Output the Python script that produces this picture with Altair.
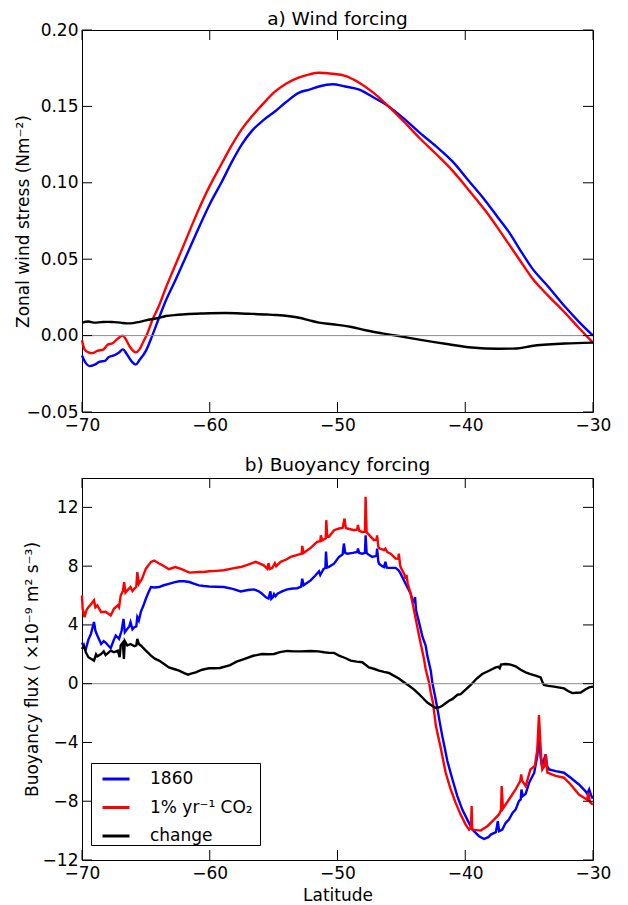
import altair as alt
import pandas as pd

FONT = "DejaVu Sans"
W, H = 511, 382

# ---------------- a) Wind forcing ----------------
wind_lat_1860 = [-70.0, -69.7, -69.4, -69.0, -68.6, -68.2, -67.9, -67.5, -67.1, -66.8, -66.5, -66.1,
                 -65.8, -65.5, -65.0, -64.5, -64.0, -63.45, -62.7, -61.9, -61.0, -60.0, -59.1, -58.25,
                 -57.5, -56.7, -55.8, -54.85, -54.0, -53.0, -52.2, -51.45, -50.4, -49.4, -48.3, -47.2,
                 -46.0, -44.8, -43.6, -42.3, -41.0, -39.7, -38.4, -37.5, -36.6, -35.7, -34.8, -33.5,
                 -32.2, -31.1, -30.0]
wind_1860 = [-0.013, -0.018, -0.020, -0.019, -0.017, -0.0165, -0.014, -0.013, -0.011, -0.009, -0.012, -0.017,
             -0.019, -0.016, -0.010, 0.000, 0.011, 0.0226, 0.036, 0.051, 0.068, 0.086, 0.100, 0.114,
             0.125, 0.134, 0.141, 0.147, 0.153, 0.159, 0.161, 0.163, 0.1645, 0.163, 0.161, 0.156,
             0.150, 0.142, 0.133, 0.124, 0.114, 0.101, 0.088, 0.078, 0.068, 0.056, 0.0445, 0.032,
             0.019, 0.009, 0.000]

wind_lat_co2 = [-70.0, -69.8, -69.5, -69.2, -68.8, -68.3, -68.0, -67.6, -67.2, -66.8, -66.6, -66.2,
                -65.8, -65.5, -65.2, -64.9, -64.5, -64.0, -63.45, -62.7, -61.9, -61.0, -60.0, -59.1,
                -58.25, -57.5, -56.7, -55.8, -54.85, -54.0, -53.0, -52.2, -51.5, -50.4, -49.4, -48.3,
                -47.2, -46.0, -44.8, -43.6, -42.3, -41.0, -39.7, -38.4, -37.5, -36.6, -35.7, -34.8,
                -33.5, -32.2, -31.1, -30.0]
wind_co2 = [-0.003, -0.009, -0.011, -0.0115, -0.010, -0.009, -0.006, -0.005, -0.002, 0.000, -0.002, -0.008,
            -0.011, -0.009, -0.004, 0.001, 0.010, 0.019, 0.031, 0.046, 0.062, 0.080, 0.098, 0.112,
            0.125, 0.135, 0.1435, 0.152, 0.160, 0.165, 0.169, 0.171, 0.172, 0.1714, 0.170, 0.1655,
            0.159, 0.150, 0.140, 0.1295, 0.119, 0.108, 0.095, 0.0815, 0.071, 0.060, 0.049, 0.038,
            0.026, 0.015, 0.005, -0.0046]

wind_lat_change = [-70.0, -69.5, -69.0, -68.5, -68.0, -67.5, -67.0, -66.5, -66.0, -65.5, -65.0, -64.0,
                   -63.45, -62.5, -61.9, -60.5, -58.8, -57.0, -55.5, -54.85, -53.0, -52.2, -51.45, -50.4,
                   -49.0, -47.8, -46.5, -45.2, -43.5, -41.3, -39.5, -37.4, -36.0, -34.8, -32.2, -30.0]
wind_change = [0.0085, 0.0092, 0.0085, 0.0088, 0.0090, 0.0088, 0.0085, 0.0080, 0.0082, 0.0090, 0.0100, 0.0115,
               0.0128, 0.0136, 0.0140, 0.0145, 0.0148, 0.0143, 0.0138, 0.0135, 0.0117, 0.0100, 0.0085, 0.0074,
               0.0058, 0.0035, 0.0015, -0.0003, -0.0028, -0.0057, -0.0078, -0.0086, -0.0084, -0.0068, -0.0052, -0.0046]

# ---------------- b) Buoyancy forcing ----------------
buoy_lat_1860 = [-70.0, -69.85, -69.7, -69.5, -69.3, -69.06, -68.95, -68.8, -68.5, -68.3, -68.15, -67.95,
                 -67.75, -67.5, -67.36, -67.1, -66.9, -66.75, -66.65, -66.45, -66.3, -66.2, -66.05, -65.9,
                 -65.75, -65.67, -65.55, -65.4, -65.2, -65.0, -64.8, -64.6, -64.3, -63.97, -63.6, -63.2,
                 -62.8, -62.4, -62.0, -61.6, -61.2, -60.85, -60.45, -60.06, -59.5, -58.9, -58.2, -57.58,
                 -57.0, -56.54, -56.2, -55.9, -55.6, -55.4, -55.25, -55.18, -55.05, -54.97, -54.85, -54.7,
                 -54.3, -53.93, -53.5, -53.15, -52.85, -52.76, -52.65, -52.4, -52.1, -51.75, -51.45, -51.35,
                 -51.1, -50.95, -50.9, -50.82, -50.67, -50.27, -49.88, -49.6, -49.5, -49.4, -49.23, -48.8,
                 -48.45, -48.4, -48.3, -48.06, -47.85, -47.8, -47.72, -47.6, -47.28, -46.95, -46.9, -46.8,
                 -46.75, -46.5, -46.36, -46.25, -46.15, -45.97, -45.45, -45.2, -45.06, -44.67, -44.27, -44.1,
                 -44.0, -43.93, -43.85, -43.62, -43.35, -43.1, -42.97, -42.7, -42.58, -42.37, -42.2, -42.0,
                 -41.8, -41.6, -41.4, -41.2, -41.0, -40.62, -40.23, -39.84, -39.45, -38.92, -38.53, -38.2,
                 -38.0, -37.6, -37.45, -37.35, -37.1, -36.83, -36.58, -36.3, -36.06, -35.8, -35.66, -35.6,
                 -35.5, -35.27, -35.0, -34.6, -34.36, -34.23, -34.1, -34.0, -33.85, -33.7, -33.6, -33.44,
                 -32.92, -32.27, -31.75, -31.1, -30.6, -30.45, -30.3, -30.15, -30.05, -30.0]
buoy_1860 = [2.8, 2.5, 2.36, 3.0, 3.39, 4.2, 3.6, 3.28, 2.7, 2.9, 2.8, 2.6,
             2.43, 3.0, 3.28, 3.05, 3.6, 4.41, 3.5, 3.73, 3.9, 4.19, 3.7, 3.84,
             3.9, 4.53, 4.3, 4.87, 5.3, 5.78, 6.2, 6.58, 6.55, 6.58, 6.7, 6.8,
             6.9, 6.97, 6.97, 6.92, 6.8, 6.69, 6.65, 6.62, 6.6, 6.58, 6.45, 6.28,
             6.38, 6.42, 6.3, 6.12, 5.88, 5.8, 6.28, 5.78, 5.9, 6.1, 5.95, 6.12,
             6.3, 6.42, 6.48, 6.5, 6.6, 7.14, 6.7, 6.85, 7.03, 7.35, 7.65, 7.4,
             7.8, 7.88, 9.0, 7.9, 7.95, 8.17, 8.63, 8.8, 9.54, 8.9, 8.85, 8.9,
             8.97, 9.2, 8.9, 8.85, 8.9, 10.1, 8.9, 8.8, 8.63, 8.7, 9.2, 8.3,
             8.17, 8.0, 7.94, 8.3, 7.9, 7.88, 7.88, 7.7, 7.49, 6.8, 6.12, 5.6,
             5.55, 5.9, 5.0, 4.19, 3.2, 2.6, 1.91, 0.89, 0.09, -0.82, -1.6, -2.6,
             -3.55, -4.4, -5.26, -5.9, -6.52, -7.65, -8.57, -9.25, -9.93, -10.38, -10.57, -10.45,
             -10.27, -10.1, -9.36, -10.04, -9.93, -9.47, -9.25, -8.79, -8.57, -7.99, -7.88, -7.2,
             -7.65, -7.5, -6.74, -6.06, -4.92, -3.55, -5.0, -5.6, -5.2, -4.81, -5.6, -5.83,
             -5.95, -6.06, -6.4, -6.86, -7.31, -7.5, -7.2, -7.6, -7.77, -7.8]

buoy_lat_co2 = [-70.0, -69.95, -69.8, -69.65, -69.5, -69.3, -69.06, -68.95, -68.8, -68.5, -68.15, -67.75,
                -67.5, -67.2, -67.1, -66.97, -66.8, -66.7, -66.6, -66.45, -66.2, -66.05, -65.9, -65.75,
                -65.67, -65.55, -65.3, -65.0, -64.6, -64.35, -64.0, -63.7, -63.2, -62.7, -62.2, -61.6,
                -60.85, -60.45, -60.06, -59.5, -58.9, -58.2, -57.58, -57.0, -56.4, -55.77, -55.5, -55.4,
                -55.3, -55.1, -54.9, -54.8, -54.45, -54.0, -53.67, -53.0, -52.8, -52.76, -52.65, -52.1,
                -51.6, -51.35, -51.3, -51.2, -50.92, -50.88, -50.8, -50.67, -50.27, -49.88, -49.6, -49.45,
                -49.35, -49.23, -48.7, -48.45, -48.4, -48.3, -48.06, -47.85, -47.8, -47.72, -47.6, -47.15,
                -46.95, -46.9, -46.8, -46.7, -46.35, -46.25, -46.1, -45.84, -45.45, -45.25, -45.2, -45.1,
                -45.06, -44.75, -44.67, -44.6, -44.5, -44.27, -43.93, -43.62, -43.23, -43.1, -42.84, -42.7,
                -42.53, -42.3, -41.9, -41.53, -41.14, -40.75, -40.36, -39.97, -39.7, -39.55, -39.5, -39.45,
                -39.4, -38.8, -38.27, -37.75, -37.36, -37.2, -37.15, -37.05, -36.58, -36.06, -35.7, -35.62,
                -35.55, -35.27, -34.9, -34.55, -34.36, -34.23, -34.12, -34.07, -33.97, -33.8, -33.7, -33.6,
                -33.57, -32.92, -32.27, -31.75, -31.1, -30.7, -30.45, -30.37, -30.25, -30.18, -30.0]
buoy_co2 = [6.0, 5.1, 4.53, 5.0, 5.21, 5.4, 5.67, 5.2, 5.33, 4.87, 4.9, 4.64,
            5.1, 5.33, 5.2, 6.0, 6.3, 6.92, 6.2, 6.35, 6.58, 6.3, 6.46, 6.6,
            7.6, 6.8, 7.14, 7.83, 8.29, 8.38, 8.2, 8.06, 7.79, 7.94, 7.79, 7.56,
            7.6, 7.6, 7.65, 7.68, 7.72, 7.85, 7.94, 8.1, 8.29, 8.06, 7.83, 8.2,
            7.8, 7.88, 8.2, 8.0, 8.29, 8.45, 8.63, 8.8, 8.85, 9.38, 8.9, 9.24,
            9.65, 9.7, 10.1, 9.75, 9.9, 11.13, 10.0, 10.0, 10.45, 10.56, 10.6, 11.24,
            10.6, 10.56, 10.45, 10.5, 10.8, 10.4, 10.33, 10.35, 12.72, 10.3, 10.2, 9.77,
            9.8, 10.1, 9.3, 9.2, 9.1, 9.2, 8.95, 8.85, 8.51, 8.5, 8.85, 8.1,
            7.94, 7.4, 7.14, 7.4, 6.8, 6.12, 4.64, 3.28, 1.68, 1.0, 0.09, -0.6,
            -1.28, -2.87, -4.47, -6.06, -7.2, -8.11, -8.91, -9.59, -9.93, -9.8, -8.33, -9.9,
            -9.93, -10.0, -9.7, -9.25, -8.9, -8.6, -6.97, -8.5, -7.88, -7.2, -6.63, -6.17,
            -6.6, -6.97, -5.83, -5.6, -4.47, -2.14, -4.0, -4.8, -5.83, -5.6, -4.81, -5.8,
            -6.06, -6.28, -6.4, -6.86, -7.54, -7.77, -7.9, -7.42, -8.0, -8.11, -8.22]

buoy_lat_change = [-70.0, -69.85, -69.7, -69.5, -69.3, -69.06, -68.9, -68.8, -68.5, -68.3, -68.15, -67.95,
                   -67.75, -67.5, -67.2, -67.05, -66.97, -66.8, -66.72, -66.65, -66.45, -66.2, -65.9, -65.75,
                   -65.67, -65.55, -65.4, -65.0, -64.6, -64.3, -63.97, -63.6, -63.2, -62.8, -62.4, -62.0,
                   -61.7, -61.4, -61.1, -60.6, -60.06, -59.6, -59.2, -58.4, -57.9, -57.32, -56.6, -55.9,
                   -55.4, -54.97, -54.5, -53.93, -53.4, -52.9, -52.1, -51.5, -51.05, -50.67, -50.27, -49.88,
                   -49.4, -48.97, -48.5, -48.06, -47.54, -47.1, -46.75, -46.36, -45.97, -45.6, -45.2, -44.8,
                   -44.4, -44.0, -43.62, -43.36, -42.97, -42.6, -42.3, -42.0, -41.8, -41.27, -41.02, -40.6,
                   -40.36, -39.97, -39.57, -39.1, -38.67, -38.1, -37.62, -37.4, -37.3, -37.2, -36.83, -36.45,
                   -36.06, -35.66, -35.27, -34.9, -34.5, -34.1, -33.95, -33.84, -33.5, -33.05, -32.27, -31.95,
                   -31.62, -31.3, -30.96, -30.6, -30.3, -30.0]
buoy_change = [2.36, 2.6, 2.14, 1.8, 1.7, 1.57, 2.0, 1.86, 2.02, 2.2, 1.95, 2.1,
               2.25, 2.14, 2.25, 1.8, 2.6, 2.8, 1.68, 2.9, 2.6, 2.7, 2.55, 2.6,
               3.05, 2.7, 2.6, 2.25, 1.91, 1.7, 1.57, 1.35, 1.11, 1.0, 0.89, 0.72,
               0.61, 0.7, 0.77, 0.95, 1.05, 1.05, 1.07, 1.27, 1.5, 1.68, 1.9, 2.02,
               2.0, 2.02, 2.15, 2.23, 2.2, 2.2, 2.23, 2.2, 2.14, 2.1, 2.1, 1.91,
               1.75, 1.57, 1.5, 1.46, 1.11, 1.0, 0.89, 0.8, 0.73, 0.55, 0.35, 0.1,
               -0.14, -0.4, -0.71, -0.94, -1.28, -1.5, -1.65, -1.6, -1.5, -1.16, -1.05, -0.75,
               -0.71, -0.4, -0.09, 0.35, 0.66, 0.9, 1.11, 1.15, 1.05, 1.3, 1.34, 1.3,
               1.18, 0.95, 0.77, 0.65, 0.55, 0.43, 0.1, -0.09, -0.15, -0.2, -0.32, -0.5,
               -0.64, -0.62, -0.6, -0.4, -0.25, -0.2]

series_names = ["1860", "1% yr\u207b\u00b9  CO\u2082", "change"]
series_colors = ["#0000ff", "#ff0000", "#000000"]

x_ticks = [-70, -60, -50, -40, -30]
wind_ticks = [-0.05, 0.0, 0.05, 0.10, 0.15, 0.20]
buoy_ticks = [-12, -8, -4, 0, 4, 8, 12]


def frame(lats, vals, name):
    return pd.DataFrame({"lat": lats, "val": vals, "series": name})


wind_df = pd.concat([frame(wind_lat_1860, wind_1860, series_names[0]),
                     frame(wind_lat_co2, wind_co2, series_names[1]),
                     frame(wind_lat_change, wind_change, series_names[2])])
buoy_df = pd.concat([frame(buoy_lat_1860, buoy_1860, series_names[0]),
                     frame(buoy_lat_co2, buoy_co2, series_names[1]),
                     frame(buoy_lat_change, buoy_change, series_names[2])])

xscale = alt.Scale(domain=[-70, -30], nice=False, zero=False)
color_scale = alt.Scale(domain=series_names, range=series_colors)


def panel(df, yticks, ydomain, yfmt, ytitle, ytitle_x, title, title_offset, interp, legend, xtitle):
    yscale = alt.Scale(domain=ydomain, nice=False, zero=False)
    x_axis = alt.Axis(values=x_ticks, ticks=False, domain=False, grid=False, labelFontSize=17,
                      labelPadding=5, title=xtitle, titleFontSize=17, titleFontWeight="normal",
                      titlePadding=6, labelFlush=False)
    y_axis = alt.Axis(values=yticks, ticks=False, domain=False, grid=False, format=yfmt,
                      labelFontSize=17, labelPadding=4, title=ytitle, titleFontSize=17,
                      titleFontWeight="normal", titleAngle=-90, titleX=ytitle_x, titleY=H / 2,
                      titleAlign="center", titleBaseline="alphabetic", labelFlush=False)
    zero = alt.Chart(pd.DataFrame({"lat": [-70], "val": [0]})).mark_rule(
        color="#8c8c8c", strokeWidth=1).encode(
        y=alt.Y("val:Q", scale=yscale, axis=y_axis))
    lines = alt.Chart(df).mark_line(strokeWidth=2.4, interpolate=interp).encode(
        x=alt.X("lat:Q", scale=xscale, axis=x_axis),
        y=alt.Y("val:Q", scale=yscale, axis=y_axis),
        color=alt.Color("series:N", scale=color_scale, legend=legend, sort=series_names),
        order=alt.Order("lat:Q"),
    )
    xt = pd.DataFrame({"lat": x_ticks})
    yt = pd.DataFrame({"val": yticks})
    tick_style = dict(color="#000000", strokeWidth=1)
    tb = alt.Chart(xt).mark_rule(**tick_style).encode(
        x=alt.X("lat:Q", scale=xscale, axis=x_axis), y=alt.value(H), y2=alt.value(H - 10))
    tt = alt.Chart(xt).mark_rule(**tick_style).encode(
        x=alt.X("lat:Q", scale=xscale, axis=x_axis), y=alt.value(0), y2=alt.value(10))
    tl = alt.Chart(yt).mark_rule(**tick_style).encode(
        y=alt.Y("val:Q", scale=yscale, axis=y_axis), x=alt.value(0), x2=alt.value(10))
    tr = alt.Chart(yt).mark_rule(**tick_style).encode(
        y=alt.Y("val:Q", scale=yscale, axis=y_axis), x=alt.value(W - 10), x2=alt.value(W))
    return alt.layer(lines, zero, tb, tt, tl, tr).properties(
        width=W, height=H,
        title=alt.TitleParams(title, fontSize=18.5, font=FONT, fontWeight="normal",
                              offset=title_offset, color="#000000"),
    )


legend = alt.Legend(orient="none", legendX=9, legendY=285, title=None, labelFontSize=17,
                    labelFont=FONT, labelColor="#000000", symbolType="stroke", symbolSize=729,
                    symbolStrokeWidth=3, strokeColor="#000000", fillColor="#ffffff", padding=1,
                    symbolOffset=9, rowPadding=5.5, labelOffset=19, cornerRadius=0)

top = panel(wind_df, wind_ticks, [-0.05, 0.20], ".2f", "Zonal wind stress (Nm\u207b\u00b2)", -54,
            "a) Wind forcing", -7, "monotone", None, None)
bottom = panel(buoy_df, buoy_ticks, [-12, 14], "d",
               "Buoyancy flux ( \u00d710\u207b\u2079 m\u00b2 s\u207b\u00b3)", -45,
               "b) Buoyancy forcing", 3, "linear", legend, "Latitude")

chart = alt.vconcat(top, bottom, spacing=21).resolve_scale(color="independent").properties(
    padding={"left": 5, "top": 1, "right": 5, "bottom": 0}
).configure(
    font=FONT, background="#ffffff"
).configure_view(stroke="#000000", strokeWidth=1).configure_axis(
    labelFont=FONT, titleFont=FONT, labelColor="#000000", titleColor="#000000"
)

chart.save("out.html", embed_options={"renderer": "svg", "actions": False})
